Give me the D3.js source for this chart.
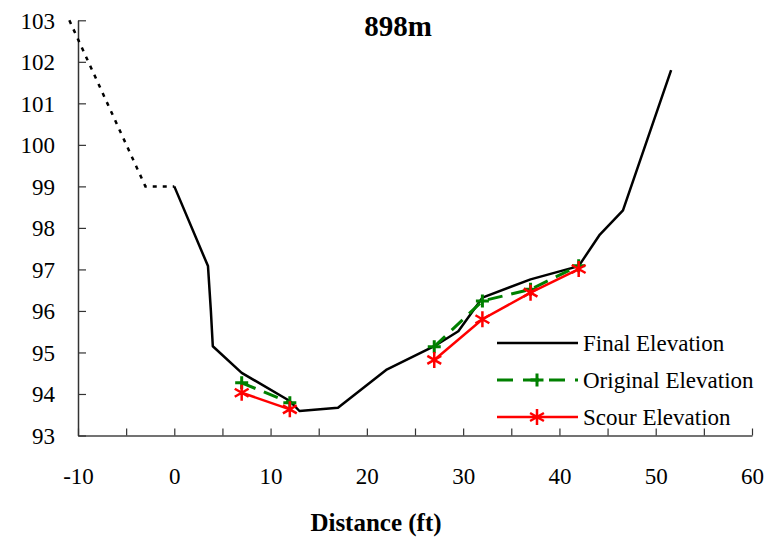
<!DOCTYPE html>
<html>
<head>
<meta charset="utf-8">
<script src="https://cdn.jsdelivr.net/npm/d3@7"></script>
<style>
  body { margin: 0; background: #fff; }
  svg text { font-family: "Liberation Serif", "Times New Roman", serif; fill: #000; }
</style>
</head>
<body>
<div id="viz"></div>
<script>
// chart values
let final_dist = [0, 3.5, 3.8, 4.0, 7, 12, 13, 17, 22, 27, 29.5, 32, 37, 42, 44.2, 46.6, 51.6];
let final_elev = [99, 97.08, 96.0, 95.15, 94.51, 93.83, 93.59, 93.67, 94.58, 95.15, 95.51, 96.32, 96.76, 97.08, 97.84, 98.42, 101.8];
let bank_dist = [-10.9, -3.0, 0];
let bank_elev = [103, 99, 99];
let orig_dist = [7, 12, 27, 32, 37, 42];
let orig_elev = [94.27, 93.79, 95.14, 96.24, 96.52, 97.09];
let scour_dist = [7, 12, 27, 32, 37, 42];
let scour_elev = [94.03, 93.63, 94.82, 95.8, 96.44, 97.01];
let x_ticks = [-10, -5, 0, 5, 10, 15, 20, 25, 30, 35, 40, 45, 50, 55, 60];
let x_labels = [-10, 0, 10, 20, 30, 40, 50, 60];
let y_ticks = [93, 94, 95, 96, 97, 98, 99, 100, 101, 102, 103];
let legend_names = ['Final Elevation', 'Original Elevation', 'Scour Elevation'];

window.onload = function () {
    graph()
}

function graph() {
    let width = 774,
        height = 540;

    const svg = d3.select("#viz")
        .append('svg')
        .attr('width', width)
        .attr('height', height)

    const x = d3.scaleLinear().domain([-10, 60]).range([78, 752]);
    const y = d3.scaleLinear().domain([93, 103]).range([435.5, 20.3]);

    // x axis, ticks pointing up into the plot
    const xAxis = svg.append("g")
        .attr("transform", "translate(0," + y(93) + ")")
        .call(d3.axisBottom(x)
            .tickValues(x_ticks)
            .tickSizeInner(-7)
            .tickSizeOuter(0)
            .tickFormat(d => x_labels.indexOf(d) >= 0 ? d : ""));
    xAxis.select(".domain").attr("stroke", "#444").attr("stroke-width", 1.5);
    xAxis.selectAll(".tick line").attr("stroke", "#333").attr("stroke-width", 1.2);
    xAxis.selectAll(".tick text")
        .attr("y", 48)
        .attr("dy", 0)
        .style("font-size", "23px")
        .style("font-family", '"Liberation Serif", serif');

    // y axis, ticks pointing right into the plot
    const yAxis = svg.append("g")
        .attr("transform", "translate(" + x(-10) + ",0)")
        .call(d3.axisLeft(y)
            .tickValues(y_ticks)
            .tickSizeInner(-8)
            .tickSizeOuter(0)
            .tickFormat(d3.format("d")));
    yAxis.select(".domain").attr("stroke", "#333").attr("stroke-width", 1.5);
    yAxis.selectAll(".tick line").attr("stroke", "#333").attr("stroke-width", 1.2);
    yAxis.selectAll(".tick text")
        .attr("x", -23)
        .attr("dy", "0.34em")
        .style("font-size", "23px")
        .style("font-family", '"Liberation Serif", serif');

    const line = d3.line()
        .x(d => x(d[0]))
        .y(d => y(d[1]));

    const zip = (a, b) => a.map((v, i) => [v, b[i]]);

    // dotted bank line
    svg.append("path")
        .datum(zip(bank_dist, bank_elev))
        .attr("d", line)
        .attr("fill", "none")
        .attr("stroke", "#000")
        .attr("stroke-width", 2.5)
        .attr("stroke-dasharray", "4,6");

    // final elevation
    svg.append("path")
        .datum(zip(final_dist, final_elev))
        .attr("d", line)
        .attr("fill", "none")
        .attr("stroke", "#000")
        .attr("stroke-width", 2.5)
        .attr("stroke-linejoin", "round");

    // original elevation
    const orig = zip(orig_dist, orig_elev);
    [orig.slice(0, 2), orig.slice(2)].forEach(function (seg) {
        svg.append("path")
            .datum(seg)
            .attr("d", line)
            .attr("fill", "none")
            .attr("stroke", "#008000")
            .attr("stroke-width", 3)
            .attr("stroke-dasharray", "15,9");
    });
    svg.append("g").selectAll("path")
        .data(orig)
        .join("path")
        .attr("transform", d => "translate(" + x(d[0]) + "," + y(d[1]) + ")")
        .attr("d", plus_path(6.5))
        .attr("stroke", "#008000")
        .attr("stroke-width", 3)
        .attr("fill", "none");

    // scour elevation
    const scour = zip(scour_dist, scour_elev);
    [scour.slice(0, 2), scour.slice(2)].forEach(function (seg) {
        svg.append("path")
            .datum(seg)
            .attr("d", line)
            .attr("fill", "none")
            .attr("stroke", "#ff0000")
            .attr("stroke-width", 2.5);
    });
    svg.append("g").selectAll("path")
        .data(scour)
        .join("path")
        .attr("transform", d => "translate(" + x(d[0]) + "," + y(d[1]) + ")")
        .attr("d", star_path(8))
        .attr("stroke", "#ff0000")
        .attr("stroke-width", 2.5)
        .attr("fill", "none");

    // legend
    const legend = svg.append("g").attr("transform", "translate(497,343)");
    legend_names.forEach(function (name, i) {
        const g = legend.append("g").attr("transform", "translate(0," + (i * 37) + ")");
        const l = g.append("line")
            .attr("x1", 0).attr("x2", 81)
            .attr("y1", 0).attr("y2", 0);
        if (i === 0) {
            l.attr("stroke", "#000").attr("stroke-width", 2.5);
        } else if (i === 1) {
            l.attr("stroke", "#008000").attr("stroke-width", 3).attr("stroke-dasharray", "16,10");
            g.append("path").attr("transform", "translate(40,0)")
                .attr("d", plus_path(6.5)).attr("stroke", "#008000").attr("stroke-width", 3);
        } else {
            l.attr("stroke", "#ff0000").attr("stroke-width", 2.5);
            g.append("path").attr("transform", "translate(40,0)")
                .attr("d", star_path(8)).attr("stroke", "#ff0000").attr("stroke-width", 2.5);
        }
        g.append("text")
            .attr("x", 86)
            .attr("y", 8)
            .style("font-size", "23px")
            .text(name);
    });

    // titles
    svg.append("text")
        .attr("x", 398)
        .attr("y", 36)
        .attr("text-anchor", "middle")
        .style("font-size", "29px")
        .style("font-weight", "bold")
        .text("898m");

    svg.append("text")
        .attr("x", 376)
        .attr("y", 531)
        .attr("text-anchor", "middle")
        .style("font-size", "25px")
        .style("font-weight", "bold")
        .text("Distance (ft)");

    return svg.node();
}

function plus_path(r) {
    let p = d3.path();
    p.moveTo(-r, 0); p.lineTo(r, 0);
    p.moveTo(0, -r); p.lineTo(0, r);
    return p.toString();
}

function star_path(r) {
    // six armed asterisk
    let p = d3.path();
    let t = r / 2, u = t * Math.sqrt(3);
    p.moveTo(0, -r); p.lineTo(0, r);
    p.moveTo(-u, -t); p.lineTo(u, t);
    p.moveTo(-u, t); p.lineTo(u, -t);
    return p.toString();
}
</script>
</body>
</html>
